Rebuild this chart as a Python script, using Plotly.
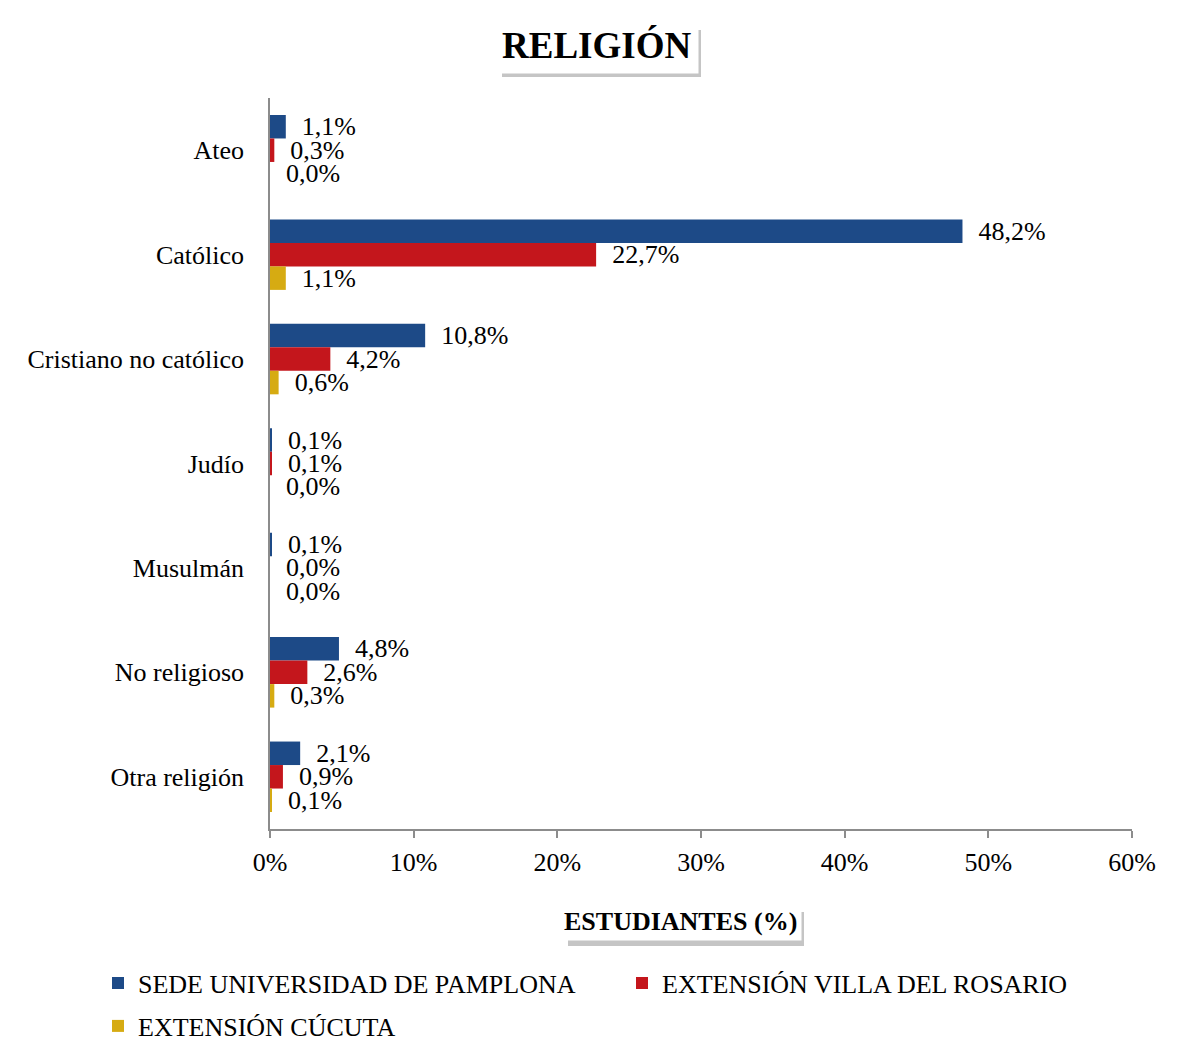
import plotly.graph_objects as go

categories = ["Ateo", "Católico", "Cristiano no católico", "Judío", "Musulmán", "No religioso", "Otra religión"]
sede_pamplona = [1.1, 48.2, 10.8, 0.1, 0.1, 4.8, 2.1]
villa_rosario = [0.3, 22.7, 4.2, 0.1, 0.0, 2.6, 0.9]
cucuta = [0.0, 1.1, 0.6, 0.0, 0.0, 0.3, 0.1]
series_names = ["SEDE UNIVERSIDAD DE PAMPLONA", "EXTENSIÓN VILLA DEL ROSARIO", "EXTENSIÓN CÚCUTA"]
x_ticks = [0, 10, 20, 30, 40, 50, 60]
x_ticklabels = ["0%", "10%", "20%", "30%", "40%", "50%", "60%"]

FONT = "Liberation Serif, Times New Roman, serif"
FS = 26
# page has an 8px body margin: figure occupies page pixels 8..1180 / 8..1046
OFF = 8
W, H = 1180 - OFF, 1046 - OFF
PL, PR, PT, PB = 270, 1132, 98, 829  # plot area in page pixels
ML, MT = PL - OFF, PT - OFF
MR, MB = 1180 - PR, 1046 - PB
PW, PH = PR - PL, PB - PT


def px_x(p):
    return (p - PL) / PW


def px_y(p):
    return (PB - p) / PH


def fmt(v):
    return "\u00a0\u00a0" + f"{v:.1f}".replace(".", ",") + "%"


colors = ["#1d4a87", "#c4161c", "#d6ab12"]
data = [sede_pamplona, villa_rosario, cucuta]
legends = ["legend", "legend2", "legend3"]

fig = go.Figure()
for name, vals, c, lg in zip(series_names, data, colors, legends):
    fig.add_trace(go.Bar(
        y=categories, x=vals, orientation="h", name=name,
        marker=dict(color=c, line=dict(width=0)),
        text=[fmt(v) for v in vals], textposition="outside",
        textfont=dict(family=FONT, size=FS, color="black"),
        constraintext="none", cliponaxis=False, legend=lg,
        hoverinfo="skip",
    ))

leg_common = dict(orientation="h", xanchor="left", yanchor="middle", itemwidth=30,
                  font=dict(family=FONT, size=FS, color="black"), bgcolor="rgba(0,0,0,0)")

fig.update_layout(
    width=W, height=H,
    margin=dict(l=ML, r=MR, t=MT, b=MB, autoexpand=False),
    paper_bgcolor="white", plot_bgcolor="white",
    barmode="group", bargap=0.325, bargroupgap=0,
    font=dict(family=FONT, size=FS, color="black"),
    showlegend=True,
    legend=dict(x=px_x(98), y=px_y(983), **leg_common),
    legend2=dict(x=px_x(622), y=px_y(983), **leg_common),
    legend3=dict(x=px_x(98), y=px_y(1026), **leg_common),
    xaxis=dict(range=[0, 60], tickvals=x_ticks, ticktext=x_ticklabels,
               showgrid=False, zeroline=False, showline=True, linecolor="#8c8c8c", linewidth=1.5,
               ticks="outside", ticklen=7, tickcolor="#8c8c8c", tickwidth=1.5,
               ticklabelstandoff=2, tickfont=dict(family=FONT, size=FS, color="black")),
    yaxis=dict(categoryorder="array", categoryarray=categories, autorange="reversed",
               showgrid=False, zeroline=False, showline=True, linecolor="#8c8c8c", linewidth=1.5,
               ticks="", ticklabelstandoff=19, tickfont=dict(family=FONT, size=FS, color="black")),
)

# title and axis title boxes with drop shadows (shadow = shape, box = annotation)
boxes = [("RELIGIÓN", 596, 45, 37, 7, (502, 701, 30, 77)),
         ("ESTUDIANTES (%)", 680, 921, FS, 4, (568, 804, 912, 946))]
for txt, cx, cy, fs, pad, (sx0, sx1, sy0, sy1) in boxes:
    fig.add_shape(type="rect", xref="paper", yref="paper",
                  x0=px_x(sx0), x1=px_x(sx1), y0=px_y(sy0), y1=px_y(sy1),
                  fillcolor="rgba(90,90,90,0.35)", line=dict(width=0), layer="above")
    fig.add_annotation(text="<b>" + txt + "</b>", xref="paper", yref="paper",
                       x=px_x(cx), y=px_y(cy), xanchor="center", yanchor="middle",
                       showarrow=False,
                       font=dict(family=FONT, size=fs, color="black"),
                       bgcolor="white", borderpad=pad)

fig.write_html("out.html")
